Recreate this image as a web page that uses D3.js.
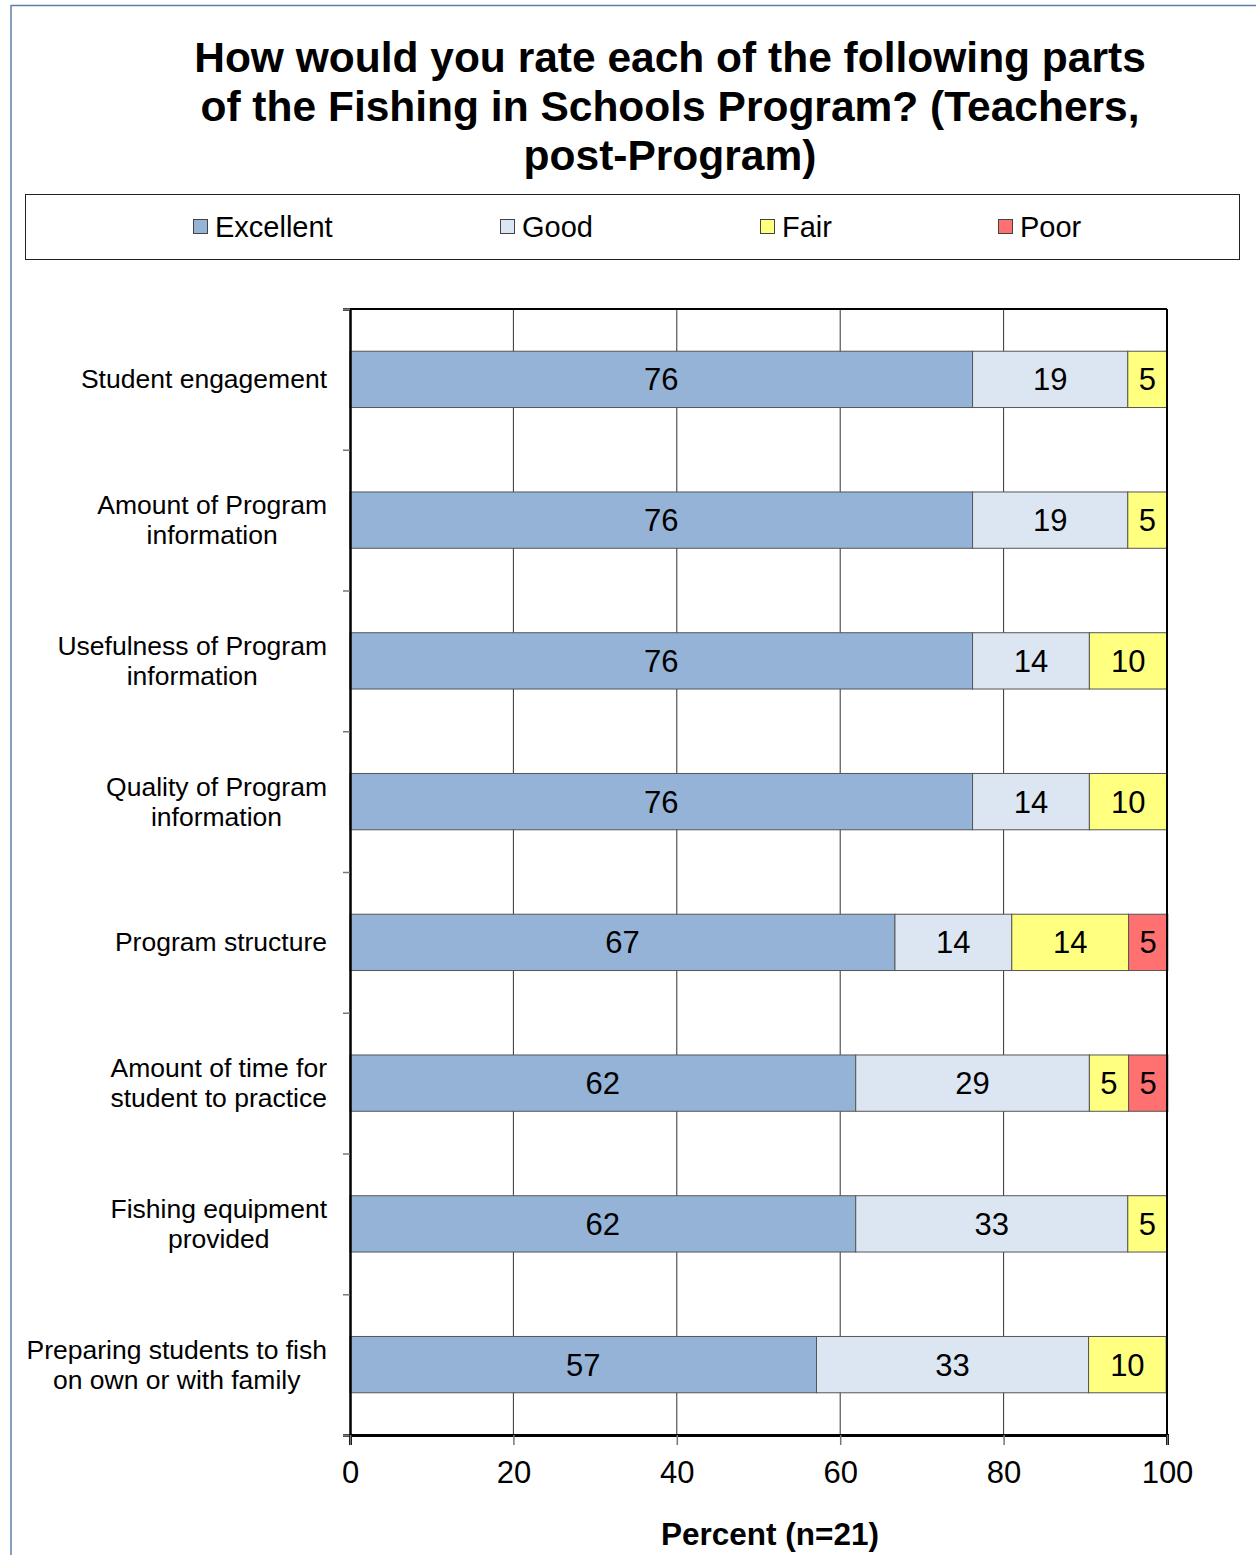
<!DOCTYPE html>
<html><head><meta charset="utf-8">
<script src="https://cdn.jsdelivr.net/npm/d3@7"></script>
<style>html,body{margin:0;padding:0;background:#fff;}svg{display:block;font-family:"Liberation Sans",Arial,sans-serif;}</style>
</head><body>
<script>
const categories = [
  ["Student engagement"],
  ["Amount of Program", "information"],
  ["Usefulness of Program", "information"],
  ["Quality of Program", "information"],
  ["Program structure"],
  ["Amount of time for", "student to practice"],
  ["Fishing equipment", "provided"],
  ["Preparing students to fish", "on own or with family"]
];
const seriesNames = ["Excellent", "Good", "Fair", "Poor"];
const excellent = [76.2, 76.2, 76.2, 76.2, 66.7, 61.9, 61.9, 57.1];
const good      = [19.0, 19.0, 14.3, 14.3, 14.3, 28.6, 33.3, 33.3];
const fair      = [4.8, 4.8, 9.5, 9.5, 14.3, 4.8, 4.8, 9.5];
const poor      = [0, 0, 0, 0, 4.8, 4.8, 0, 0];
const xTicks = [0, 20, 40, 60, 80, 100];
const colors = ["#95b3d7", "#dce6f2", "#ffff80", "#ff7070"];

(function () {
const W = 1256, H = 1555;
const svg = d3.select("body").append("svg").attr("width", W).attr("height", H);

// page frame
svg.append("line").attr("x1", 11).attr("x2", W).attr("y1", 5.5).attr("y2", 5.5).attr("stroke", "#5d7ca8").attr("stroke-width", 1.5);
svg.append("line").attr("x1", 11).attr("x2", 11).attr("y1", 5).attr("y2", H).attr("stroke", "#5d7ca8").attr("stroke-width", 1.5);

// title
const titleLines = ["How would you rate each of the following parts", "of the Fishing in Schools Program? (Teachers,", "post-Program)"];
svg.append("g").selectAll("text").data(titleLines).join("text")
  .attr("x", 670).attr("y", (d, i) => 72 + i * 49)
  .attr("text-anchor", "middle").attr("font-weight", "bold").attr("font-size", 42.5).attr("fill", "#000")
  .text(d => d);

// legend
svg.append("rect").attr("x", 25.5).attr("y", 194.5).attr("width", 1214).attr("height", 65)
  .attr("fill", "#fff").attr("stroke", "#222").attr("stroke-width", 1);
const legX = [193, 500, 760, 998];
const lg = svg.append("g").selectAll("g").data(seriesNames).join("g")
  .attr("transform", (d, i) => `translate(${legX[i]},0)`);
lg.append("rect").attr("x", 0.5).attr("y", 219.5).attr("width", 14).attr("height", 14)
  .attr("fill", (d, i) => colors[i]).attr("stroke", "#444").attr("stroke-width", 1);
lg.append("text").attr("x", 22).attr("y", 237).attr("font-size", 29).attr("fill", "#000").text(d => d);

// plot
const pL = 350, pR = 1167, pT = 309, pB = 1435;
const x = d3.scaleLinear().domain([0, 100]).range([pL, pR]);
const y = d3.scaleBand().domain(d3.range(categories.length)).range([pT, pB]).padding(0);
const bh = y.bandwidth() * 0.4;

// gridlines
svg.append("g").selectAll("line").data(xTicks.slice(1, -1)).join("line")
  .attr("x1", d => x(d)).attr("x2", d => x(d)).attr("y1", pT).attr("y2", pB)
  .attr("stroke", "#333").attr("stroke-width", 1);

// stacked data
const rows = categories.map((c, i) => ({ i, Excellent: excellent[i], Good: good[i], Fair: fair[i], Poor: poor[i] }));
const stack = d3.stack().keys(seriesNames)(rows);
const sg = svg.append("g").selectAll("g").data(stack).join("g").attr("fill", (d, k) => colors[k]);
sg.selectAll("rect").data(d => d.filter(s => s[1] - s[0] > 0)).join("rect")
  .attr("x", d => x(d[0])).attr("width", d => x(d[1]) - x(d[0]))
  .attr("y", d => y(d.data.i) + y.bandwidth() / 2 - bh / 2).attr("height", bh)
  .attr("stroke", "#555").attr("stroke-width", 1);
const tg = svg.append("g").selectAll("g").data(stack).join("g");
tg.selectAll("text").data(d => d.filter(s => s[1] - s[0] > 0)).join("text")
  .attr("x", d => (x(d[0]) + x(d[1])) / 2)
  .attr("y", d => y(d.data.i) + y.bandwidth() / 2 + 11)
  .attr("text-anchor", "middle").attr("font-size", 31).attr("fill", "#000")
  .text(d => Math.round(d[1] - d[0]));

// frame
svg.append("line").attr("x1", pL).attr("x2", pR).attr("y1", pT).attr("y2", pT).attr("stroke", "#000").attr("stroke-width", 2);
svg.append("line").attr("x1", pR).attr("x2", pR).attr("y1", pT).attr("y2", pB).attr("stroke", "#000").attr("stroke-width", 2);

// y axis
const yAxis = d3.axisLeft(d3.scaleLinear().domain([0, categories.length]).range([pT, pB]))
  .tickValues(d3.range(categories.length + 1)).tickSize(7).tickFormat("");
const ya = svg.append("g").attr("transform", `translate(${pL},0)`).call(yAxis);
ya.select(".domain").attr("stroke", "#000").attr("stroke-width", 2.5);
ya.selectAll(".tick line").attr("stroke", "#777").attr("stroke-width", 1.5);

// y labels (block right-aligned, lines centred within block)
const yl = svg.append("g").selectAll("text").data(categories).join("text")
  .attr("text-anchor", "middle").attr("font-size", 26.5).attr("fill", "#000");
yl.each(function(lines, i) {
  const cy = y(i) + y.bandwidth() / 2;
  const n = lines.length;
  const ts = d3.select(this).selectAll("tspan").data(lines).join("tspan")
    .attr("x", 0).attr("y", (d, j) => cy + 9 + (j - (n - 1) / 2) * 30).text(d => d);
  let maxW = 0;
  ts.each(function() { maxW = Math.max(maxW, this.getComputedTextLength()); });
  ts.attr("x", 327 - maxW / 2);
});

// x axis
const xAxis = d3.axisBottom(x).tickValues(xTicks).tickSize(10).tickPadding(16);
const xa = svg.append("g").attr("transform", `translate(0,${pB})`).call(xAxis);
xa.select(".domain").attr("stroke", "#000").attr("stroke-width", 3);
xa.selectAll(".tick line").attr("stroke", "#777").attr("stroke-width", 1.5);
xa.selectAll(".tick text").attr("font-size", 31).attr("fill", "#000").attr("font-family", "Liberation Sans, Arial, sans-serif");

svg.append("text").attr("x", 770).attr("y", 1545).attr("text-anchor", "middle")
  .attr("font-weight", "bold").attr("font-size", 31.5).attr("fill", "#000").text("Percent (n=21)");
})();
</script>
</body></html>
